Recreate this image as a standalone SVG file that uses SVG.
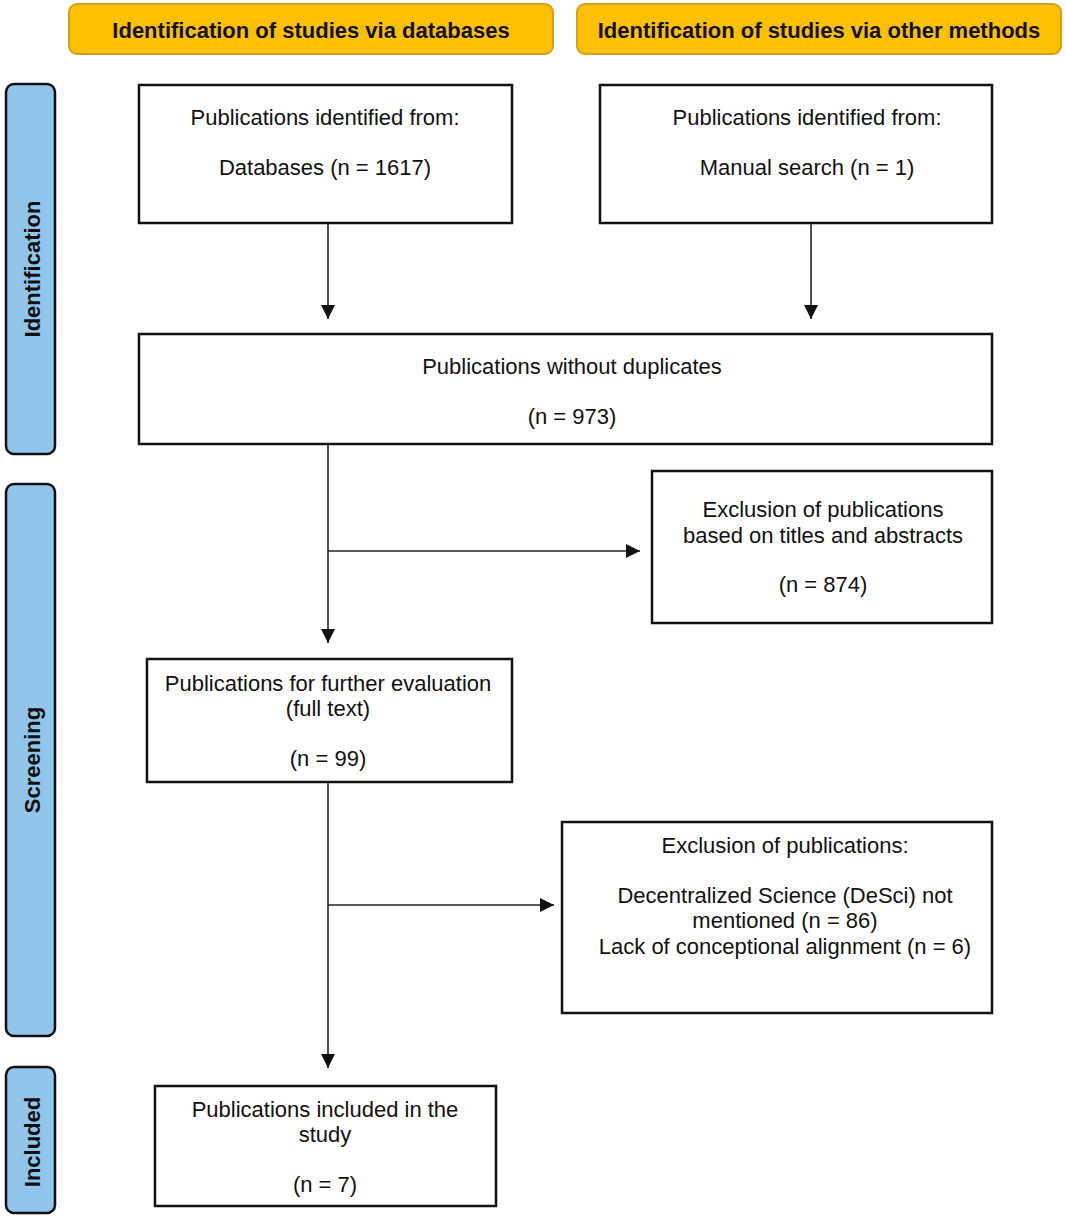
<svg xmlns="http://www.w3.org/2000/svg" width="1065" height="1217" viewBox="0 0 1065 1217">
<style>
.hdr{fill:#FFC000;stroke:#D4A017;stroke-width:2}
.side{fill:#92C5EB;stroke:#111;stroke-width:2.5}
.box{fill:#fff;stroke:#111;stroke-width:2.5}
.t{font-family:"Liberation Sans",Arial,sans-serif;font-size:22px;fill:#111;text-anchor:middle}
.b{font-family:"Liberation Sans",Arial,sans-serif;font-size:22px;font-weight:bold;fill:#111;text-anchor:middle}
.c{stroke:#222;stroke-width:1.6;fill:none}
</style>
<defs>
<marker id="a" viewBox="0 0 12 12" refX="12" refY="6" markerWidth="14" markerHeight="14" markerUnits="userSpaceOnUse" orient="auto">
<path d="M0,0 L12,6 L0,12 z" fill="#111"/>
</marker>
</defs>
<g id="header-db"><rect class="hdr" x="69" y="4" width="484" height="50" rx="8"/><text class="b" x="311" y="38">Identification of studies via databases</text></g>
<g id="header-other"><rect class="hdr" x="577" y="4" width="484" height="50" rx="8"/><text class="b" x="819" y="38">Identification of studies via other methods</text></g>
<g id="side-identification"><rect class="side" x="6" y="84" width="49" height="370" rx="8"/><text class="b" transform="translate(40,269) rotate(-90)">Identification</text></g>
<g id="side-screening"><rect class="side" x="6" y="484" width="49" height="552" rx="8"/><text class="b" transform="translate(40,760) rotate(-90)">Screening</text></g>
<g id="side-included"><rect class="side" x="6" y="1067" width="49" height="146" rx="8"/><text class="b" transform="translate(40,1142) rotate(-90)">Included</text></g>
<g id="node-databases"><rect class="box" x="139" y="85" width="373" height="138"/><text class="t" x="325" y="125">Publications identified from:</text><text class="t" x="325" y="175">Databases (n = 1617)</text></g>
<g id="node-manual"><rect class="box" x="600" y="85" width="392" height="138"/><text class="t" x="807" y="125">Publications identified from:</text><text class="t" x="807" y="175">Manual search (n = 1)</text></g>
<g id="node-nodup"><rect class="box" x="139" y="334" width="853" height="110"/><text class="t" x="572" y="374">Publications without duplicates</text><text class="t" x="572" y="424">(n = 973)</text></g>
<g id="node-excl1"><rect class="box" x="652" y="471" width="340" height="152"/><text class="t" x="823" y="517">Exclusion of publications</text><text class="t" x="823" y="543">based on titles and abstracts</text><text class="t" x="823" y="592">(n = 874)</text></g>
<g id="node-full"><rect class="box" x="147" y="659" width="365" height="123"/><text class="t" x="328" y="691">Publications for further evaluation</text><text class="t" x="328" y="716">(full text)</text><text class="t" x="328" y="766">(n = 99)</text></g>
<g id="node-excl2"><rect class="box" x="562" y="822" width="430" height="191"/><text class="t" x="785" y="853">Exclusion of publications:</text><text class="t" x="785" y="903">Decentralized Science (DeSci) not</text><text class="t" x="785" y="928">mentioned (n = 86)</text><text class="t" x="785" y="954">Lack of conceptional alignment (n = 6)</text></g>
<g id="node-included"><rect class="box" x="155" y="1086" width="341" height="120"/><text class="t" x="325" y="1117">Publications included in the</text><text class="t" x="325" y="1142">study</text><text class="t" x="325" y="1192">(n = 7)</text></g>
<g id="connectors">
<line class="c" x1="328" y1="224" x2="328" y2="319" marker-end="url(#a)"/>
<line class="c" x1="811" y1="224" x2="811" y2="319" marker-end="url(#a)"/>
<line class="c" x1="328" y1="445" x2="328" y2="643" marker-end="url(#a)"/>
<line class="c" x1="328" y1="551" x2="640" y2="551" marker-end="url(#a)"/>
<line class="c" x1="328" y1="783" x2="328" y2="1068" marker-end="url(#a)"/>
<line class="c" x1="328" y1="905" x2="554" y2="905" marker-end="url(#a)"/>
</g>
</svg>
